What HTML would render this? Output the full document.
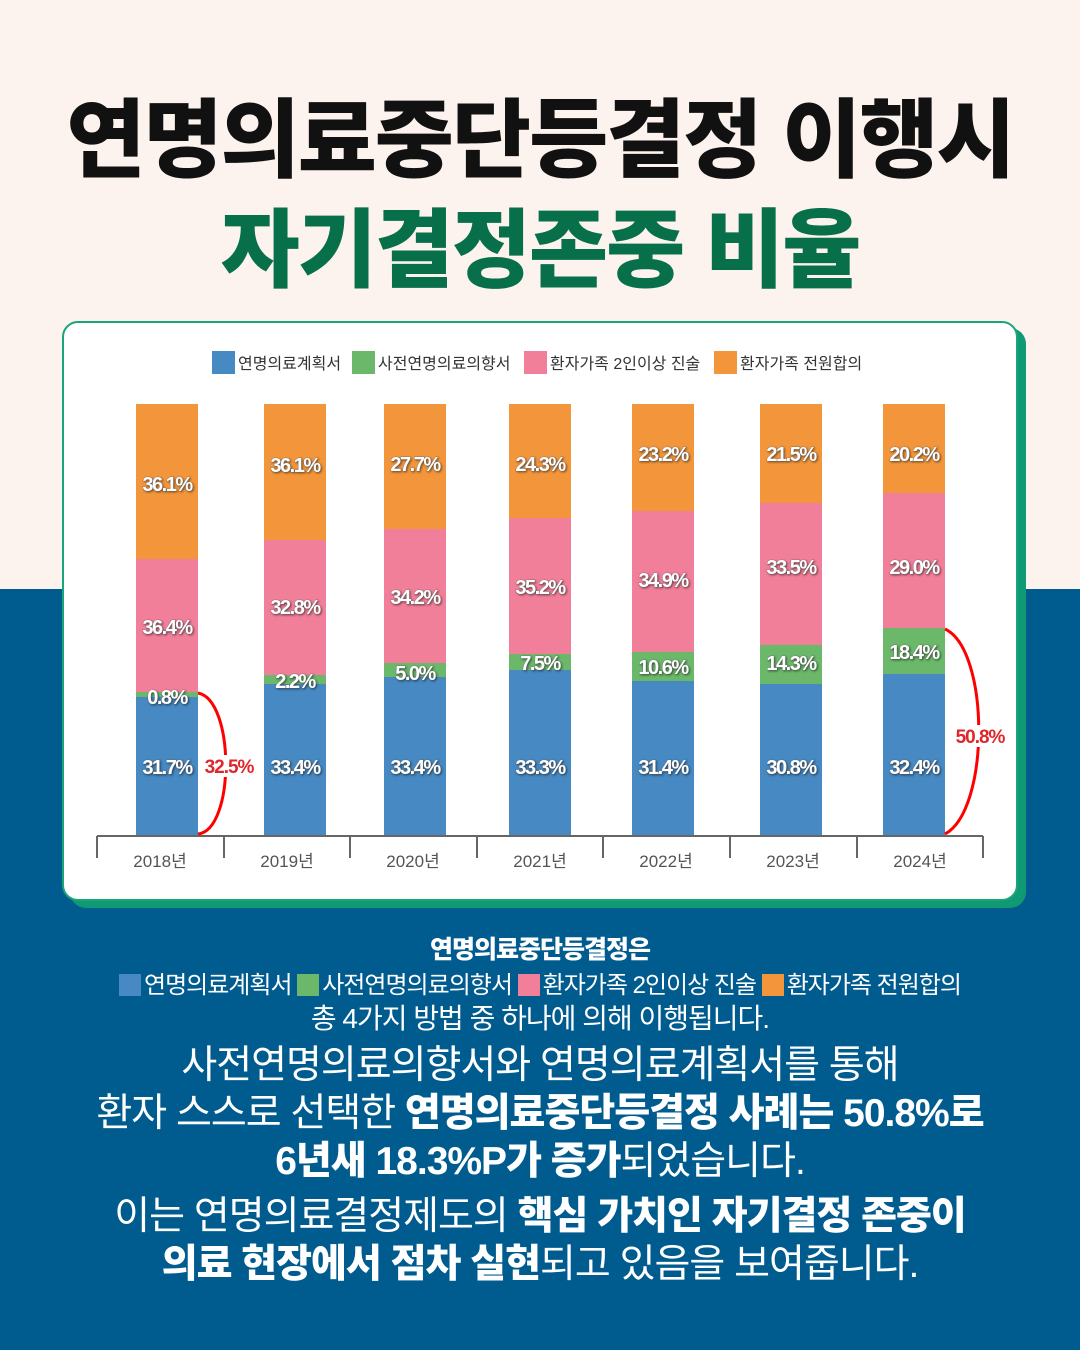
<!DOCTYPE html>
<html><head><meta charset="utf-8"><style>
body{margin:0;width:1080px;height:1350px;position:relative;overflow:hidden;font-family:"Liberation Sans","Noto Sans CJK KR",sans-serif;background:#005b8f}
.top{position:absolute;left:0;top:0;width:1080px;height:589px;background:#fdf3ee}
.t{position:absolute;left:0;width:1080px;text-align:center;font-weight:900;letter-spacing:-2px}
.card{position:absolute;left:62px;top:321px;width:952px;height:576px;background:#fff;border:2px solid #19a57a;border-radius:16px;box-shadow:8px 7px 0 #0f9a74}
.p{position:absolute;left:0;width:1080px;text-align:center;color:#fff;letter-spacing:-1px}
.p b{font-weight:900}
.sq{display:inline-block;width:22px;height:22px;vertical-align:-3px;margin-right:3px}
</style></head><body>
<div class="top"></div>
<div class="t" style="top:70px;font-size:86px;color:#111">연명의료중단등결정 이행시</div>
<div class="t" style="top:180px;font-size:86px;color:#07704a">자기결정존중 비율</div>
<div class="card"></div>
<svg style="position:absolute;left:0;top:0" width="1080" height="900" font-family="Liberation Sans, Noto Sans CJK KR, sans-serif">
<g font-size="16" fill="#333">
<rect x="212" y="351" width="23" height="23" fill="#4689c3"/><text x="238" y="369">연명의료계획서</text>
<rect x="352" y="351" width="23" height="23" fill="#6bb86b"/><text x="378" y="369">사전연명의료의향서</text>
<rect x="524" y="351" width="23" height="23" fill="#f27f99"/><text x="550" y="369">환자가족 2인이상 진술</text>
<rect x="714" y="351" width="23" height="23" fill="#f3963b"/><text x="740" y="369">환자가족 전원합의</text>
</g>
<g id="bars"></g>
<g stroke="#666" stroke-width="2" fill="none"><path d="M97 836H983M97 836V858M224 836V858M350 836V858M477 836V858M603 836V858M730 836V858M857 836V858M983 836V858"/></g>
<g font-size="17" fill="#555" text-anchor="middle">
<text x="160" y="867">2018년</text><text x="287" y="867">2019년</text><text x="413" y="867">2020년</text><text x="540" y="867">2021년</text><text x="666" y="867">2022년</text><text x="793" y="867">2023년</text><text x="920" y="867">2024년</text></g>
<path d="M198 693 C235 700 235 830 198 834" stroke="#f00" stroke-width="3" fill="none"/>
<path d="M945 629 C990 650 990 810 945 834" stroke="#f00" stroke-width="3" fill="none"/>
<rect x="202" y="755" width="55" height="22" fill="#fff"/><rect x="952" y="725" width="56" height="22" fill="#fff"/>
<text x="229" y="773" font-size="19" font-weight="bold" fill="#e0262b" text-anchor="middle" letter-spacing="-1">32.5%</text>
<text x="980" y="743" font-size="19" font-weight="bold" fill="#e0262b" text-anchor="middle" letter-spacing="-1">50.8%</text>
</svg>
<script>
var xs=[136,264,384,509,632,760,883],b=[697,684,677,670,681,684,674],g=[692,675,663,654,652,645,628],p=[559,540,529,518,511,503,493];
var L=[["31.7%","0.8%","36.4%","36.1%"],["33.4%","2.2%","32.8%","36.1%"],["33.4%","5.0%","34.2%","27.7%"],["33.3%","7.5%","35.2%","24.3%"],["31.4%","10.6%","34.9%","23.2%"],["30.8%","14.3%","33.5%","21.5%"],["32.4%","18.4%","29.0%","20.2%"]];
var ly=[[767,697,627,484],[767,681,607,465],[767,673,597,464],[767,663,587,464],[767,667,580,454],[767,663,567,454],[767,652,567,454]];
var s="";for(var i=0;i<7;i++){var x=xs[i];
s+='<rect x="'+x+'" y="404" width="62" height="'+(p[i]-404)+'" fill="#f3963b"/>';
s+='<rect x="'+x+'" y="'+p[i]+'" width="62" height="'+(g[i]-p[i])+'" fill="#f27f99"/>';
s+='<rect x="'+x+'" y="'+g[i]+'" width="62" height="'+(b[i]-g[i])+'" fill="#6bb86b"/>';
s+='<rect x="'+x+'" y="'+b[i]+'" width="62" height="'+(836-b[i])+'" fill="#4689c3"/>';
for(var j=0;j<4;j++)s+='<text x="'+(x+31)+'" y="'+(ly[i][j]+7)+'" font-size="20" font-weight="bold" fill="#fff" stroke="#666" stroke-width="0.6" paint-order="stroke" text-anchor="middle" letter-spacing="-1.5" style="filter:drop-shadow(1px 1px 1px rgba(0,0,0,.5))">'+L[i][j]+'</text>';}
document.getElementById("bars").innerHTML=s;
</script>
<div class="p" style="top:930px;font-size:25px"><b>연명의료중단등결정은</b></div>
<div class="p" style="top:965px;font-size:24px"><span class="sq" style="background:#4689c3"></span>연명의료계획서 <span class="sq" style="background:#6bb86b"></span>사전연명의료의향서 <span class="sq" style="background:#f27f99"></span>환자가족 2인이상 진술 <span class="sq" style="background:#f3963b"></span>환자가족 전원합의</div>
<div class="p" style="top:997px;font-size:28px">총 4가지 방법 중 하나에 의해 이행됩니다.</div>
<div class="p" style="top:1042px;font-size:39px;line-height:48px">사전연명의료의향서와 연명의료계획서를 통해<br>환자 스스로 선택한 <b>연명의료중단등결정 사례는 50.8%로</b><br><b>6년새 18.3%P가 증가</b>되었습니다.</div>
<div class="p" style="top:1193px;font-size:39px;line-height:48px">이는 연명의료결정제도의 <b>핵심 가치인 자기결정 존중이</b><br><b>의료 현장에서 점차 실현</b>되고 있음을 보여줍니다.</div>
</body></html>
